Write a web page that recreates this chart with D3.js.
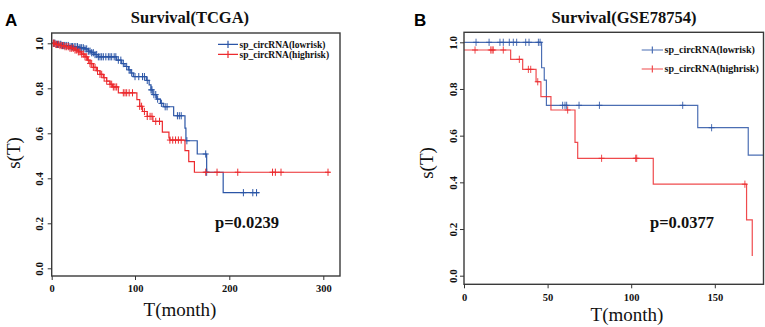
<!DOCTYPE html>
<html><head><meta charset="utf-8">
<script src="https://cdn.jsdelivr.net/npm/d3@7"></script>
<style>
html,body{margin:0;padding:0;background:#fff;}
svg{display:block;}
</style></head>
<body>
<svg id="c" width="765" height="327"></svg>
<script>
// ---------- DATA ----------
// Panel A (TCGA): step times and survival after each step
const aLowSteps = [[5,0.995],[12,0.99],[22,0.985],[32,0.98],[40,0.975],[44,0.965],[48,0.958],[52,0.95],[56,0.94],[78,0.925],[84,0.91],[88,0.897],[92,0.882],[95,0.868],[98,0.852],[112,0.835],[115,0.815],[117,0.793],[119,0.772],[123,0.752],[127,0.733],[130,0.718],[141,0.678],[153,0.623],[154,0.567],[166,0.508],[176,0.427],[193.5,0.336]];
const aLowEnd = 232;
const aLowCensor = [2,3,4,6,7,8,10,11,13,15,16,18,20,22,24,25,27,29,31,33,35,36,38,40,42,44,46,48,50,52,54,56,58,60,62,65,68,70,72,75,77,80,83,86,90,93,96,100,104,108,110,113,117,118,120,122,124,128,132,134,145,147,149,155,175,176,215,225,229];
const aHighSteps = [[4,0.995],[10,0.99],[16,0.985],[22,0.978],[28,0.97],[32,0.962],[36,0.952],[40,0.94],[43,0.925],[46,0.91],[50,0.893],[54,0.878],[58,0.862],[62,0.847],[66,0.832],[70,0.818],[73,0.806],[80,0.78],[102,0.75],[105,0.72],[108,0.697],[113,0.675],[119,0.653],[129,0.605],[136,0.58],[137,0.57],[153,0.523],[157,0.474],[163,0.427]];
const aHighEnd = 307;
const aHighCensor = [2,3,5,6,8,10,12,14,16,18,20,22,24,26,28,30,32,34,36,38,40,42,44,46,48,50,52,55,58,60,63,66,70,72,74,76,78,86,88,90,93,97,105,107,110,113,116,118,122,126,137,140,143,146,149,175,187,209,246,249,255,305];

// Panel B (GSE78754)
const bLowSteps = [[46.4,0.891],[48,0.838],[49.3,0.73],[139.8,0.634],[170,0.517]];
const bLowEnd = 185;
const bLowCensor = [7.2,15,21.5,23.5,27.1,29.5,31.5,36.9,38.9,44.5,45.5,59,60.4,61.4,68.8,81,130.8,148.1];
const bHighStart = 0.967;
const bHighSteps = [[27.9,0.927],[35.1,0.884],[43.1,0.831],[46,0.767],[52,0.71],[66.4,0.571],[68,0.503],[113.2,0.392],[169,0.239],[172.4,0.084]];
const bHighEnd = 172.4;
const bHighCensor = [6.6,16,16.8,17.5,23.5,33.1,38.5,39.9,44.1,62,82.3,102.7,103.3,168];

const yTicks = [0,0.2,0.4,0.6,0.8,1.0];
const aXTicks = [0,100,200,300];
const bXTicks = [0,50,100,150];
const legendLabels = ["sp_circRNA(lowrisk)","sp_circRNA(highrisk)"];

// ---------- DRAW ----------
const svg = d3.select("#c");
const BLUE = "#2b55a6", RED = "#ec2a2e";
const serif = "'Liberation Serif','Times New Roman',serif";

function survAt(steps, start, t){
  let s = start;
  for (const [tt, v] of steps){ if (tt <= t) s = v; }
  return s;
}

function panel(cfg){
  const g = svg.append("g");
  const x = d3.scaleLinear().domain(cfg.xDomain).range(cfg.xRange);
  const y = d3.scaleLinear().domain([0,1]).range(cfg.yRange);
  const clipId = "clip" + cfg.id;
  svg.append("clipPath").attr("id", clipId).append("rect")
    .attr("x", cfg.box[0]).attr("y", cfg.box[1])
    .attr("width", cfg.box[2]-cfg.box[0]).attr("height", cfg.box[3]-cfg.box[1]);

  const plot = g.append("g").attr("clip-path", `url(#${clipId})`);
  const line = d3.line().x(d=>x(d[0])).y(d=>y(d[1])).curve(d3.curveStepAfter);

  cfg.series.forEach(s=>{
    const last = s.steps.length ? s.steps[s.steps.length-1][1] : s.start;
    const pts = [[0, s.start], ...s.steps, [s.end, last]];
    plot.append("path").attr("d", line(pts)).attr("fill","none")
      .attr("stroke", s.color).attr("stroke-width", 1.2).attr("opacity", cfg.op);
    s.censor.forEach(t=>{
      const cx = x(t), cy = y(survAt(s.steps, s.start, t));
      plot.append("path").attr("d", `M${cx},${cy-3.6}V${cy+3.6}M${cx-3},${cy}H${cx+3}`)
        .attr("stroke", s.color).attr("stroke-width", 1).attr("fill","none").attr("opacity", cfg.op);
    });
  });

  // box
  g.append("rect").attr("x", cfg.box[0]).attr("y", cfg.box[1])
    .attr("width", cfg.box[2]-cfg.box[0]).attr("height", cfg.box[3]-cfg.box[1])
    .attr("fill","none").attr("stroke","#3a3a3a").attr("stroke-width",1.4);

  // x axis
  const xa = g.append("g").attr("transform", `translate(0,${cfg.box[3]})`)
    .call(d3.axisBottom(x).tickValues(cfg.xTicks).tickSize(4).tickPadding(cfg.xPad).tickFormat(d3.format("d")));
  xa.select(".domain").remove();
  xa.selectAll("line").attr("stroke","#333");
  xa.selectAll("text").attr("font-family", serif).attr("font-weight","bold").attr("font-size","10.5px").attr("fill","#111");

  // y axis
  const ya = g.append("g").attr("transform", `translate(${cfg.box[0]},0)`)
    .call(d3.axisLeft(y).tickValues(yTicks).tickSize(4).tickFormat(d3.format(".1f")));
  ya.select(".domain").remove();
  ya.selectAll("line").attr("stroke","#333");
  ya.selectAll("text").attr("transform","rotate(-90)").attr("x",0).attr("y",cfg.yLabOff).attr("dy",0)
    .attr("text-anchor","middle").attr("font-family", serif).attr("font-weight","bold").attr("font-size","11px").attr("fill","#111");

  // titles
  g.append("text").attr("x", cfg.titleX).attr("y", 23).attr("text-anchor","middle")
    .attr("font-family", serif).attr("font-weight","bold").attr("font-size","16.5px").attr("fill","#111").text(cfg.title);
  g.append("text").attr("x", cfg.letterX).attr("y", 26).attr("font-family","'Liberation Sans',Arial,sans-serif")
    .attr("font-weight","bold").attr("font-size","17px").attr("fill","#000").text(cfg.letter);
  g.append("text").attr("x", cfg.xLabX).attr("y", cfg.xLabY).attr("text-anchor","middle")
    .attr("font-family", serif).attr("font-size","19px").attr("fill","#111").text("T(month)");
  g.append("text").attr("transform", `translate(${cfg.yLabX},${cfg.yLabY}) rotate(-90)`).attr("text-anchor","middle")
    .attr("font-family", serif).attr("font-size","19px").attr("fill","#111").text("s(T)");
  g.append("text").attr("x", cfg.pX).attr("y", 228).attr("font-family", serif).attr("font-weight","bold")
    .attr("font-size","16.5px").attr("fill","#111").text(cfg.pText);

  // legend
  cfg.series.forEach((s,i)=>{
    const ly = cfg.legY[i];
    const [lx0, lx1] = cfg.legX;
    const mx = (lx0+lx1)/2;
    g.append("path").attr("d", `M${lx0},${ly}H${lx1}M${mx},${ly-3.6}V${ly+3.6}`)
      .attr("stroke", s.color).attr("stroke-width",1.2).attr("fill","none").attr("opacity", cfg.op);
    g.append("text").attr("x", lx1+1.5).attr("y", ly+3.3).attr("font-family", serif).attr("font-weight","bold")
      .attr("font-size", cfg.legFont).attr("fill","#111").text(legendLabels[i]);
  });
}

panel({
  id:"A", letter:"A", letterX:5, title:"Survival(TCGA)", titleX:190,
  xDomain:[0,100,200,300], xRange:[51.7,135,229.3,323.3], xTicks:aXTicks, xPad:5,
  yRange:[268.3,43.3], box:[51.7,33,340,276], yLabOff:-9, yLabX:20, yLabY:153,
  xLabX:180, xLabY:316,
  pX:215, pText:"p=0.0239", legX:[218,238], legY:[44.3,54.3], legFont:"9.5px", op:1,
  series:[
    {start:1, steps:aLowSteps, end:aLowEnd, censor:aLowCensor, color:BLUE},
    {start:1, steps:aHighSteps, end:aHighEnd, censor:aHighCensor, color:RED}
  ]
});
panel({
  id:"B", letter:"B", letterX:414, title:"Survival(GSE78754)", titleX:624,
  xDomain:[0,150], xRange:[464,714.8], xTicks:bXTicks, xPad:5.5,
  yRange:[275.7,42.3], box:[464,32.3,763.5,284.3], yLabOff:-7.5, yLabX:433, yLabY:163,
  xLabX:627, xLabY:321,
  pX:650, pText:"p=0.0377", legX:[641.7,663], legY:[50,69], legFont:"10px", op:0.85,
  series:[
    {start:1, steps:bLowSteps, end:bLowEnd, censor:bLowCensor, color:BLUE},
    {start:bHighStart, steps:bHighSteps, end:bHighEnd, censor:bHighCensor, color:RED}
  ]
});
</script>
</body></html>
